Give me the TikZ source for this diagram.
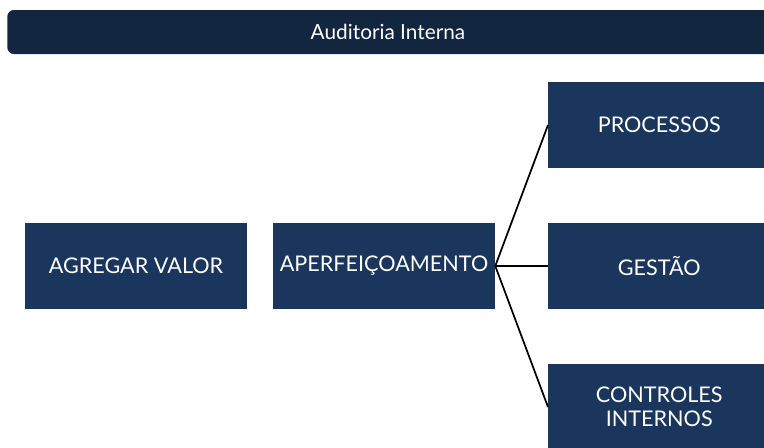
\documentclass[tikz,border=0pt]{standalone}
\usepackage{fontspec}
\setmainfont{Lato}
\usetikzlibrary{positioning}
\definecolor{azul}{HTML}{1B365D}
\definecolor{marinho}{HTML}{13263F}

\begin{document}
\begin{tikzpicture}[x=0.75pt,y=-0.75pt,
    caixa/.style={fill=azul, text=white, align=center,
      font=\fontsize{16.2}{18}\selectfont,
      minimum width=166.5pt, minimum height=64.5pt, inner sep=0pt},
    ligacao/.style={draw=black, line width=1.3pt}
  ]
  \useasboundingbox (0,0) rectangle (764,447);
  \clip (0,0) rectangle (764,447);
  % faixa do titulo
  \node[fill=marinho, rounded corners=5pt, minimum width=582pt,
    minimum height=33pt, inner sep=0pt, anchor=west] (titulo) at (7,32) {};
  \node[text=white, font=\fontsize{15.6}{18}\selectfont] (tituloTxt) at (388,32) {Auditoria Interna};
  % caixas
  \node[caixa] (agregar) at (136,266) {AGREGAR VALOR};
  \node[caixa] (aperf) at (384,266) {APERFEIÇOAMENTO};
  \node[caixa, anchor=west] (proc) at (548,125) {PROCESSOS};
  \node[caixa, anchor=west] (gestao) at (548,266) {GESTÃO};
  \node[caixa, anchor=west] (ctrl) at (548,407) {CONTROLES\\INTERNOS};
  % ligacoes
  \draw[ligacao] (aperf.east) -- (proc.west);
  \draw[ligacao] (aperf.east) -- (gestao.west);
  \draw[ligacao] (aperf.east) -- (ctrl.west);
\end{tikzpicture}
\end{document}
